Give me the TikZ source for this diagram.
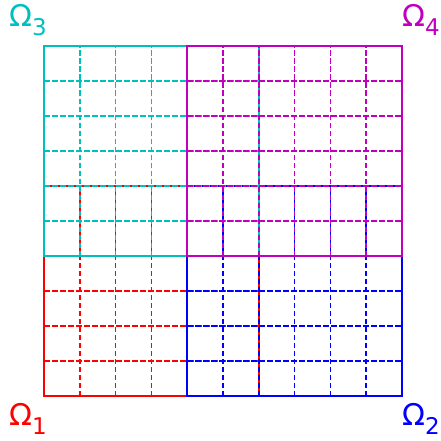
\documentclass[tikz,border=0pt]{standalone}
\usepackage{fontspec}
\setmainfont{DejaVu Sans}
\definecolor{domR}{rgb}{1,0,0}
\definecolor{domB}{rgb}{0,0,1}
\definecolor{domC}{rgb}{0,0.75,0.75}
\definecolor{domM}{rgb}{0.75,0,0.75}
\tikzset{
  gridline/.style={line width=1.7pt, dash pattern=on 5.5pt off 2.5pt},
  borderline/.style={line width=1.7pt},
  lab/.style={anchor=base west, inner sep=0pt, font=\fontsize{30}{30}\selectfont}
}
\newcommand{\omsub}[1]{Ω\raisebox{-9pt}{\fontsize{23}{23}\selectfont #1}}
\newcommand{\drawdomain}[3]{%
  \foreach \k in {1,...,5} {
    \draw[gridline, #1] (#2+\k, #3) -- (#2+\k, #3+6);
    \draw[gridline, #1] (#2, #3+\k) -- (#2+6, #3+\k);
  }
  \draw[borderline, #1] (#2,#3) rectangle (#2+6,#3+6);
}
\begin{document}
\begin{tikzpicture}
\useasboundingbox (0pt,0pt) rectangle (441pt,440pt);
\begin{scope}[shift={(44pt,44pt)}, x=35.8pt, y=35pt]
  \drawdomain{domR}{0}{0}
  \drawdomain{domB}{4}{0}
  \drawdomain{domC}{0}{4}
  \drawdomain{domM}{4}{4}
\end{scope}
\node[lab, text=domC] (o3) at (9pt,413pt) {\omsub{3}};
\node[lab, text=domM] (o4) at (402pt,413pt) {\omsub{4}};
\node[lab, text=domR] (o1) at (9pt,15pt) {\omsub{1}};
\node[lab, text=domB] (o2) at (402pt,15pt) {\omsub{2}};
\end{tikzpicture}
\end{document}
